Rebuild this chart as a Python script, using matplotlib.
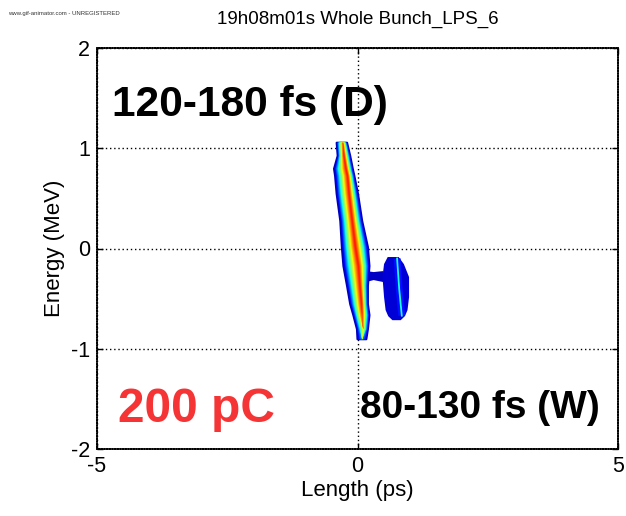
import numpy as np
import matplotlib
matplotlib.use("Agg")
import matplotlib.pyplot as plt

plt.rcParams['font.family'] = ['Liberation Sans', 'DejaVu Sans']
plt.rcParams['axes.unicode_minus'] = False

# ---- data ----
# main (drive) bunch: outline and ridge at several energy levels
streak_y     = [1.06, 0.93, 0.80, 0.73, 0.55, 0.28, 0.02, -0.17, -0.37, -0.55, -0.66, -0.80, -0.90]
streak_left  = [-0.41, -0.39, -0.46, -0.44, -0.41, -0.34, -0.31, -0.28, -0.21, -0.15, -0.09, -0.02, -0.01]
streak_ridge = [-0.29, -0.27, -0.23, -0.20, -0.17, -0.11, -0.05, 0.01, 0.04, 0.07, 0.08, 0.10, 0.08]
streak_right = [-0.21, -0.15, -0.10, -0.07, 0.00, 0.08, 0.19, 0.22, 0.19, 0.19, 0.22, 0.19, 0.16]
streak_peak  = [0.82, 0.90, 0.90, 0.90, 0.90, 0.90, 0.90, 0.90, 0.90, 0.90, 0.85, 0.65, 0.30]

# witness bunch outline
blob_y     = [-0.08, -0.15, -0.28, -0.48, -0.61, -0.67, -0.71]
blob_left  = [0.57, 0.50, 0.47, 0.50, 0.53, 0.58, 0.66]
blob_right = [0.78, 0.88, 0.98, 0.98, 0.95, 0.90, 0.82]
blob_core_x = [0.76, 0.80, 0.85]
blob_core_y = [-0.10, -0.40, -0.67]

# bridge between the two bunches
bridge_x  = [0.15, 0.30, 0.49]
bridge_hi = [-0.22, -0.23, -0.22]
bridge_lo = [-0.33, -0.31, -0.33]

x_ticks = [-5, 0, 5]
y_ticks = [-2, -1, 0, 1, 2]

title = "19h08m01s Whole Bunch_LPS_6"
xlabel = "Length (ps)"
ylabel = "Energy (MeV)"

# ---- figure ----
fig = plt.figure(figsize=(6.26, 5.16), dpi=100)
ax = fig.add_axes([97/626, 67/516, 521/626, 401/516])
cmap = plt.get_cmap('jet')

edge_level = 0.05
# witness bunch and bridge (below the main streak)
ax.fill_between(bridge_x, bridge_lo, bridge_hi, color=cmap(0.06), lw=0, zorder=2)
ax.fill_betweenx(blob_y, blob_left, blob_right, color=cmap(0.075), lw=0, zorder=2)
ax.plot(blob_core_x, blob_core_y, color=cmap(0.14), lw=5, solid_capstyle='butt', zorder=3)
ax.plot(blob_core_x, blob_core_y, color=cmap(0.38), lw=1.3, zorder=3)

# main streak drawn as nested intensity bands
sy = np.array(streak_y)
sl = np.array(streak_left)
sr = np.array(streak_ridge)
sR = np.array(streak_right)
sp = np.array(streak_peak)
for i, t in enumerate(np.linspace(edge_level, 0.9, 50)):
    f = 1 - (t - edge_level) / (sp - edge_level)
    f = np.clip(f, 0, 1) ** 0.9
    left_t = sr - (sr - sl) * f
    right_t = sr + (sR - sr) * f
    if i == 0:
        ax.fill_betweenx(sy, left_t, right_t, facecolor=cmap(t), edgecolor=cmap(t),
                         lw=1.5, zorder=4)
    else:
        ax.fill_betweenx(sy, left_t, right_t, color=cmap(t), lw=0, zorder=4)

ax.set_xlim(-5, 5)
ax.set_ylim(-2, 2)
ax.set_xticks(x_ticks)
ax.set_yticks(y_ticks)
ax.grid(True, color='black', linestyle=(0, (1, 2.0)), linewidth=1.0, zorder=1)
ax.set_axisbelow(True)
ax.tick_params(direction='in', length=4, width=1, top=True, right=True,
               labelsize=15.5, pad=5)
for s in ax.spines.values():
    s.set_linewidth(1.2)
    s.set_linestyle((0, (1, 0.6)))
ax.set_xlabel(xlabel, fontsize=16, labelpad=2)
ax.set_ylabel(ylabel, fontsize=16, labelpad=4)

ax.text(-4.71, 1.32, "120-180 fs (D)", fontsize=30.6, fontweight='bold',
        color='black', va='baseline', ha='left', zorder=6)
ax.text(-4.59, -1.73, "200 pC", fontsize=34.5, fontweight='bold',
        color='#f53535', va='baseline', ha='left', zorder=6)
ax.text(0.05, -1.69, "80-130 fs (W)", fontsize=28, fontweight='bold',
        color='black', va='baseline', ha='left', zorder=6)

fig.text(357.5/626, 1 - 19/516, title, fontsize=13.5, ha='center', va='center')
fig.text(8/626, 1 - 13/516, "www.gif-animator.com - UNREGISTERED", fontsize=4.3,
         ha='left', va='center', color='#333333')

fig.savefig("out.png", dpi=100)
